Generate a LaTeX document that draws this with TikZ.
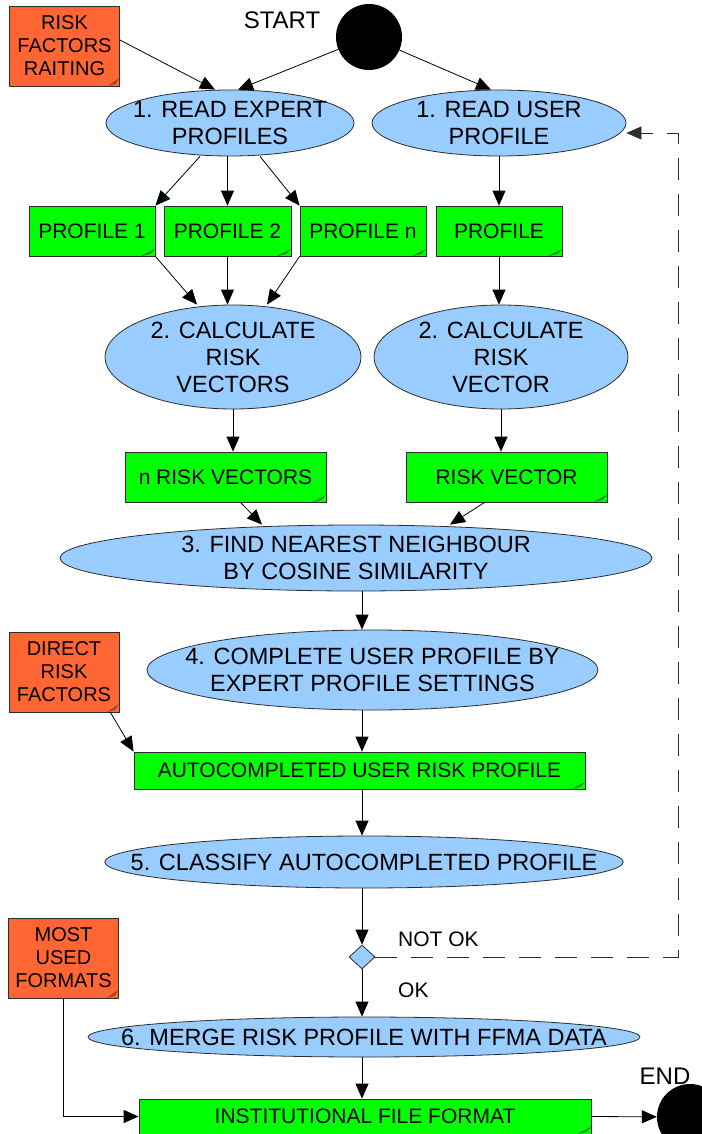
\documentclass[tikz,border=0pt]{standalone}
\usepackage{fontspec}
\setmainfont{Liberation Sans}
\usetikzlibrary{arrows.meta, positioning, shapes.geometric}
\definecolor{notecol}{RGB}{255,102,51}
\definecolor{doccol}{RGB}{0,255,0}
\definecolor{stagecol}{RGB}{153,204,255}
\definecolor{edgecol}{RGB}{45,45,45}

\begin{document}
\begin{tikzpicture}[x=1pt, y=-1pt,
        every node/.style={inner sep=0pt},
        stage/.style={ellipse, draw=edgecol, line width=0.8pt, fill=stagecol, align=center,
            inner xsep=-50pt, font=\fontsize{23.5}{27}\selectfont},
        doc/.style={rectangle, draw=edgecol, line width=0.8pt, fill=doccol,
            font=\fontsize{21}{23}\selectfont,
            path picture={\fill[doccol!55!black]
                ([xshift=-14pt]path picture bounding box.south east) --
                ([yshift=7pt]path picture bounding box.south east) --
                ([xshift=-5pt,yshift=2pt]path picture bounding box.south east) -- cycle;}},
        note/.style={rectangle, draw=edgecol, line width=0.8pt, fill=notecol, align=center,
            minimum width=110pt, minimum height=80pt, font=\fontsize{20}{23}\selectfont,
            path picture={\fill[notecol!65!black]
                ([xshift=-12pt]path picture bounding box.south east) --
                ([yshift=8pt]path picture bounding box.south east) --
                ([xshift=-4pt,yshift=2pt]path picture bounding box.south east) -- cycle;}},
        dot/.style={circle, fill=black, minimum size=66pt},
        lbl/.style={font=\fontsize{21}{23}\selectfont},
        flow/.style={-{Triangle[length=15pt,width=13pt]}, line width=0.8pt, black}
    ]
    \useasboundingbox (0,0) rectangle (701,1134);

    % start and inputs
    \node[note] (rf) at (64.5,46) {RISK\\FACTORS\\RAITING};
    \node[font=\fontsize{24}{26}\selectfont] (startlbl) at (282,20) {START};
    \node[dot] (start) at (369,37) {};

    % step 1
    \node[stage, minimum width=248pt, minimum height=66pt] (exp) at (230,123) {1. READ EXPERT\\PROFILES};
    \node[stage, minimum width=254pt, minimum height=66pt] (usr) at (499,123) {1. READ USER\\PROFILE};

    % profiles
    \node[doc, minimum width=126pt, minimum height=50pt] (p1) at (92,231) {PROFILE 1};
    \node[doc, minimum width=127pt, minimum height=50pt] (p2) at (227.5,231) {PROFILE 2};
    \node[doc, minimum width=126pt, minimum height=50pt] (pn) at (363,231) {PROFILE n};
    \node[doc, minimum width=126pt, minimum height=50pt] (prof) at (499,231) {PROFILE};

    % step 2
    \node[stage, minimum width=256pt, minimum height=104pt] (calcE) at (233,357) {2. CALCULATE\\RISK\\VECTORS};
    \node[stage, minimum width=254pt, minimum height=104pt] (calcU) at (501,357) {2. CALCULATE\\RISK\\VECTOR};

    % vectors
    \node[doc, minimum width=201pt, minimum height=50pt] (vecs) at (225.5,477) {n RISK VECTORS};
    \node[doc, minimum width=201pt, minimum height=50pt] (vec) at (506.5,477) {RISK VECTOR};

    % steps 3 and 4
    \node[stage, minimum width=592pt, minimum height=66pt] (nn) at (356,558) {3. FIND NEAREST NEIGHBOUR\\BY COSINE SIMILARITY};
    \node[stage, minimum width=451pt, minimum height=80pt] (comp) at (372.5,670) {4. COMPLETE USER PROFILE BY\\EXPERT PROFILE SETTINGS};
    \node[note] (drf) at (64,672) {DIRECT\\RISK\\FACTORS};
    \node[doc, minimum width=451pt, minimum height=37pt] (auto) at (359.5,770.5) {AUTOCOMPLETED USER RISK PROFILE};

    % step 5 and check
    \node[stage, minimum width=488pt, minimum height=52pt] (cls) at (364,862) {5. CLASSIFY AUTOCOMPLETED PROFILE};
    \node[diamond, draw=edgecol, line width=0.8pt, fill=stagecol, minimum width=26pt, minimum height=24pt] (dec) at (362,957) {};
    \node[lbl, anchor=west] (notok) at (398,939) {NOT OK};
    \node[lbl, anchor=west] (ok) at (398,990) {OK};

    % step 6 and end
    \node[stage, minimum width=552pt, minimum height=40pt] (merge) at (364,1037) {6. MERGE RISK PROFILE WITH FFMA DATA};
    \node[note] (muf) at (63.5,958) {MOST\\USED\\FORMATS};
    \node[doc, minimum width=452pt, minimum height=35pt] (inst) at (365,1116.5) {INSTITUTIONAL FILE FORMAT};
    \node[font=\fontsize{24}{26}\selectfont] (endlbl) at (665,1076) {END};
    \node[dot] (endc) at (690,1117) {};

    \coordinate (ret) at (678,0);
    \coordinate (back) at ([yshift=-10pt]usr.east);

    % connectors
    \draw[flow] ([yshift=6pt]rf.east) -- ([xshift=-15pt]exp.north);
    \draw[flow] (start) -- ([xshift=8pt]exp.north);
    \draw[flow] (start) -- ([xshift=-8pt]usr.north);
    \draw[flow] ([xshift=-30pt]exp.south) -- (p1.north east);
    \draw[flow] (exp.south -| p2) -- (p2.north);
    \draw[flow] ([xshift=30pt]exp.south) -- (pn.north west);
    \draw[flow] (usr.south -| prof) -- (prof.north);
    \draw[flow] (p1.south east) -- ([xshift=-36pt]calcE.north);
    \draw[flow] (p2.south) -- (p2.south |- calcE.north);
    \draw[flow] (pn.south west) -- ([xshift=34pt]calcE.north);
    \draw[flow] (prof.south) -- (prof.south |- calcU.north);
    \draw[flow] (calcE.south) -- (calcE.south |- vecs.north);
    \draw[flow] (calcU.south) -- (calcU.south |- vec.north);
    \draw[flow] ([xshift=15pt]vecs.south) -- ([xshift=-94pt]nn.north);
    \draw[flow] ([xshift=-22pt]vec.south) -- ([xshift=94pt]nn.north);
    \draw[flow] (nn.south -| dec) -- (comp.north -| dec);
    \draw[flow] ([xshift=-9pt]drf.south east) -- (auto.north west);
    \draw[flow] (comp.south -| dec) -- (auto.north -| dec);
    \draw[flow] (auto.south -| dec) -- (cls.north -| dec);
    \draw[flow] (cls.south -| dec) -- (dec.north);
    \draw[flow] (dec.south) -- (merge.north -| dec);
    \draw[flow, draw=edgecol, dash pattern=on 22pt off 14pt] (dec.east) -- (dec.east -| ret) -- (ret |- back) -- (back);
    \draw[flow] (merge.south -| dec) -- (inst.north -| dec);
    \draw[flow] (muf.south) |- (inst.west);
    \draw[flow] (inst.east) -- (endc);
\end{tikzpicture}
\end{document}
